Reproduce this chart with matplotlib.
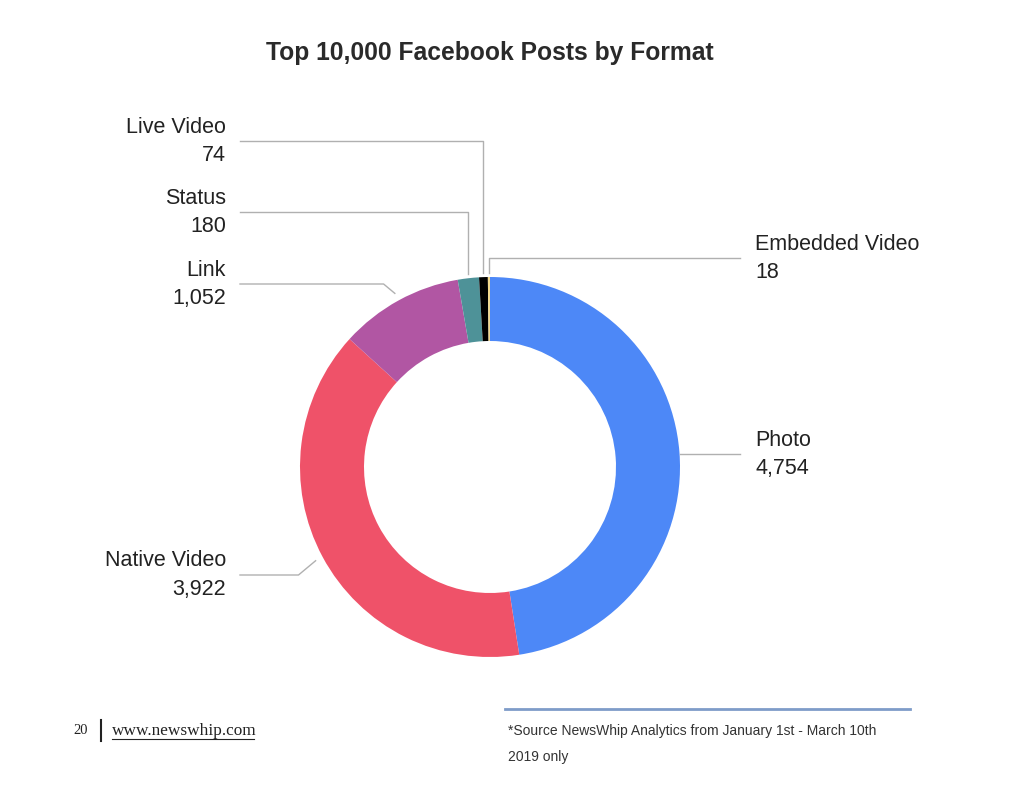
import matplotlib.pyplot as plt
import numpy as np

# data
formats = ["Photo", "Native Video", "Link", "Status", "Live Video", "Embedded Video"]
posts = [4754, 3922, 1052, 180, 74, 18]
colors = ["#4D88F7", "#EF5269", "#B156A3", "#4E9298", "#000000", "#F2D98C"]

# label layout (pixel coords of image, y down): side, text y, leader style
label_y = {"Photo": 454, "Native Video": 575, "Link": 284, "Status": 212,
           "Live Video": 141, "Embedded Video": 258}
label_side = {"Photo": "right", "Native Video": "left", "Link": "left", "Status": "left",
              "Live Video": "left", "Embedded Video": "right"}
leader_kind = {"Photo": "flat", "Native Video": "diag", "Link": "diag", "Status": "vert",
               "Live Video": "vert", "Embedded Video": "vert"}

W, H = 1024, 788
fig = plt.figure(figsize=(W / 100, H / 100), dpi=100)
ax = fig.add_axes([0, 0, 1, 1])

plt.rcParams['font.family'] = ['Liberation Sans', 'DejaVu Sans']

cx, cy = 490, H - 467
R = 190
ring = 64

wedges, _ = ax.pie(posts, colors=colors, startangle=90, counterclock=False,
                   center=(cx, cy), radius=R, frame=True,
                   wedgeprops=dict(width=ring, linewidth=0))
ax.set_xlim(0, W)
ax.set_ylim(0, H)
ax.set_aspect('equal')
ax.axis('off')

def fy(y):
    return H - y

line_col = "#B0B0B0"
for w, name, val in zip(wedges, formats, posts):
    mid = np.deg2rad((w.theta1 + w.theta2) / 2)
    ly = fy(label_y[name])
    kind = leader_kind[name]
    side = label_side[name]
    if kind == "vert":
        ax0 = cx + (R + 4) * np.cos(mid)
        ay0 = cy + (R + 4) * np.sin(mid)
        xs = [ax0, ax0]
        ys = [ay0, ly]
    elif kind == "diag":
        ax0 = cx + (R + 8) * np.cos(mid)
        ay0 = cy + (R + 8) * np.sin(mid)
        d = abs(ay0 - ly)
        ex = ax0 - 1.2 * d if side == "left" else ax0 + 1.2 * d
        xs = [ax0, ex]
        ys = [ay0, ly]
    else:
        ax0 = cx + (R + 1) * np.cos(mid)
        xs = [ax0]
        ys = [ly]
    if side == "left":
        xs.append(240)
        tx, ha = 226, "right"
    else:
        xs.append(740)
        tx, ha = 755, "left"
    ys.append(ly)
    ax.plot(xs, ys, color=line_col, lw=1)
    ax.text(tx, ly + 14, name, ha=ha, va="center", fontsize=15.5, color="#222222")
    ax.text(tx, ly - 14, f"{val:,}", ha=ha, va="center", fontsize=15.5, color="#222222")

ax.text(490, fy(53), "Top 10,000 Facebook Posts by Format", ha="center", va="center",
        fontsize=17.7, fontweight="bold", color="#2A2A2A")

# footer
ax.plot([505, 910], [fy(709), fy(709)], color="#7E9CC9", lw=2)
ax.text(508, fy(731), "*Source NewsWhip Analytics from January 1st - March 10th",
        ha="left", va="center", fontsize=10, color="#333333")
ax.text(508, fy(757), "2019 only", ha="left", va="center", fontsize=10, color="#333333")
ax.text(88, fy(731), "20", ha="right", va="center", fontsize=10.5, color="#222222",
        family=['Liberation Serif'])
ax.plot([101, 101], [fy(720), fy(741)], color="#222222", lw=1.5)
ax.text(112, fy(731), "www.newswhip.com", ha="left", va="center", fontsize=12.4,
        color="#222222", family=['Liberation Serif'])
ax.plot([112, 254], [fy(739), fy(739)], color="#222222", lw=0.8)

fig.savefig("out.png", dpi=100, facecolor="white")
